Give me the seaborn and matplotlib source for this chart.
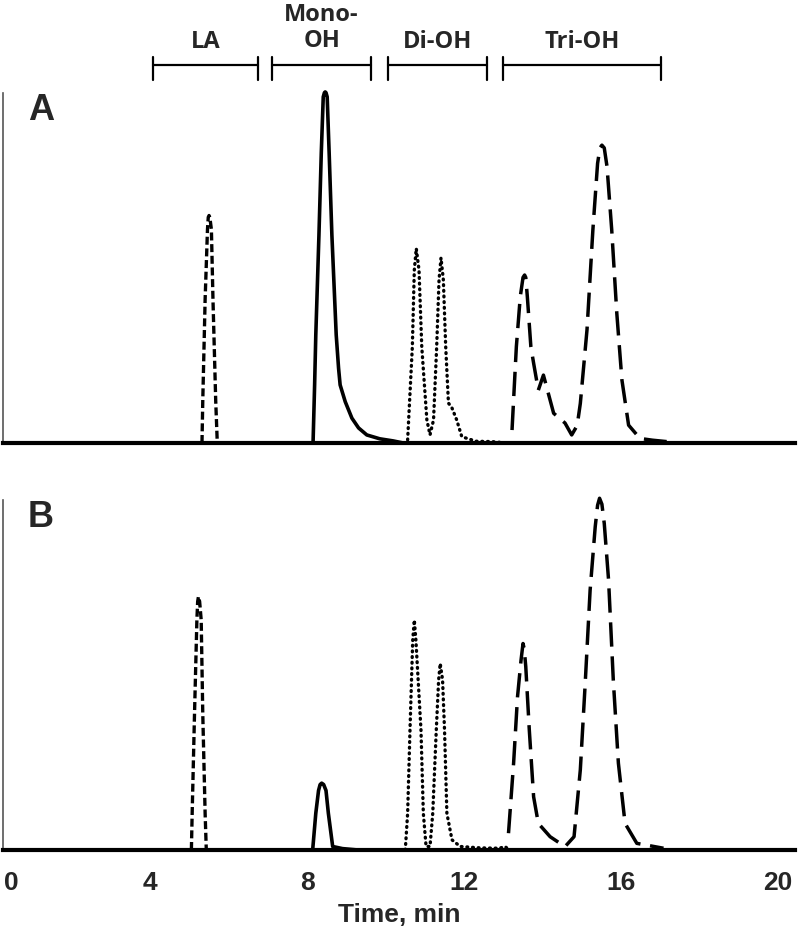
import matplotlib
matplotlib.use("Agg")
import matplotlib.pyplot as plt
import seaborn as sns

# retention time (min) and signal (% of panel height)
# panel A
la_a_t = [5.32, 5.34, 5.40, 5.46, 5.48, 5.50, 5.52, 5.56, 5.60, 5.67, 5.71]
la_a_y = [0, 12, 41, 61, 64.5, 65, 64.5, 61, 41, 12, 0]
mono_a_t = [8.15, 8.19, 8.22, 8.30, 8.36, 8.41, 8.44, 8.46, 8.48, 8.51, 8.56, 8.63, 8.74, 8.80, 8.84, 8.97,
            9.14, 9.31, 9.52, 9.85, 10.19, 10.45]
mono_a_y = [0, 16.6, 30.9, 59.4, 83, 98.9, 100.1, 100.3, 100.1, 98.9, 83, 59.4, 30.9, 21.4, 16.6, 11.8,
            7.1, 4.3, 2.3, 1.2, 0.6, 0]
di_a_t = [10.56, 10.68, 10.73, 10.78, 10.85, 10.92, 11.05, 11.13, 11.22, 11.30, 11.36, 11.41, 11.47, 11.53, 11.60,
          11.69, 11.81, 11.94, 12.3, 12.7, 13.09]
di_a_y = [0.9, 27.5, 49.4, 55.6, 49.4, 27.5, 6.6, 2.3, 6.6, 27.5, 46.6, 52.9, 46.6, 27.5, 11.4,
          10.0, 6.6, 1.8, 0.5, 0.4, 0]
tri_a_t = [13.22, 13.33, 13.43, 13.50, 13.54, 13.57, 13.61, 13.70, 13.77, 13.89, 14.02, 14.28, 14.57, 14.74, 14.88,
           14.96, 15.13, 15.28, 15.40, 15.46, 15.51, 15.57, 15.64, 15.76, 15.89, 16.02, 16.19, 16.48, 16.8, 17.16]
tri_a_y = [3.7, 27.5, 41.8, 47.3, 48, 47.3, 41.8, 27.5, 22.8, 15.1, 19.4, 8.5, 5.7, 2.3, 5.0,
           11.3, 32.3, 60.9, 79.9, 84.3, 85.1, 84.3, 79, 60.9, 37, 18, 5.1, 1.3, 0.8, 0.4]

# panel B
la_b_t = [5.05, 5.07, 5.13, 5.19, 5.21, 5.23, 5.26, 5.30, 5.34, 5.40, 5.43]
la_b_y = [0, 10.5, 39, 65.7, 71, 72.4, 71, 65.7, 39, 10.5, 0]
mono_b_t = [8.14, 8.22, 8.29, 8.33, 8.37, 8.42, 8.48, 8.54, 8.65, 8.9, 9.3]
mono_b_y = [0, 10.5, 17, 18.7, 19.1, 18.7, 17, 10.5, 1.0, 0.4, 0]
di_b_t = [10.50, 10.56, 10.62, 10.69, 10.73, 10.77, 10.90, 10.96, 11.03, 11.13, 11.20, 11.29, 11.35, 11.39, 11.45,
          11.50, 11.56, 11.69, 11.9, 12.41, 12.9, 13.04, 13.15]
di_b_y = [0, 10.5, 34.3, 60, 65.7, 60, 34.3, 10.5, 1, 1, 10.5, 34.3, 48.6, 53.3, 48.6,
          34.3, 10.5, 2.9, 1.0, 0.6, 0.5, 1.0, 0]
tri_b_t = [13.13, 13.26, 13.36, 13.45, 13.50, 13.53, 13.57, 13.66, 13.77, 13.89, 14.19, 14.57, 14.80, 14.96, 15.08,
           15.21, 15.34, 15.40, 15.45, 15.51, 15.57, 15.68, 15.80, 15.93, 16.10, 16.40, 17.08]
tri_b_y = [4.8, 24.8, 43.8, 54.3, 59, 57.5, 52.4, 34.3, 15.2, 7.6, 3.8, 0.95, 3.8, 22.9, 46.7,
           74.3, 92.4, 98.5, 100.5, 98.8, 93.3, 77.1, 48.6, 24.8, 7.6, 1.9, 0.5]

# fraction windows shown above panel A
groups = ["LA", "Mono-\nOH", "Di-OH", "Tri-OH"]
group_start = [4.08, 7.11, 10.06, 12.99]
group_end = [6.75, 9.63, 12.59, 17.02]

tick_pos = [0.45, 4, 8, 12, 16, 20]
tick_lab = ["0", "4", "8", "12", "16", "20"]

sns.set_style("white")
plt.rcParams["font.family"] = ["Liberation Sans", "DejaVu Sans"]
narrow = ["Liberation Sans Narrow", "Liberation Sans", "DejaVu Sans"]

styles = {
    "LA": dict(lw=2.4, linestyle=(0, (2.4, 1.1))),
    "Mono": dict(lw=2.6, linestyle="-"),
    "Di": dict(lw=2.4, linestyle=(0, (0.25, 1.45)), dash_capstyle="round"),
    "Tri": dict(lw=2.5, linestyle=(0, (7.0, 2.8))),
}

fig = plt.figure(figsize=(8, 9.39), dpi=100)
ax_a = fig.add_axes([3 / 800, 1 - 443 / 939, 792 / 800, 350 / 939])
ax_b = fig.add_axes([3 / 800, 1 - 850 / 939, 792 / 800, 350 / 939])

panels = [
    (ax_a, "A", [(la_a_t, la_a_y, "LA"), (mono_a_t, mono_a_y, "Mono"), (di_a_t, di_a_y, "Di"), (tri_a_t, tri_a_y, "Tri")]),
    (ax_b, "B", [(la_b_t, la_b_y, "LA"), (mono_b_t, mono_b_y, "Mono"), (di_b_t, di_b_y, "Di"), (tri_b_t, tri_b_y, "Tri")]),
]

for ax, letter, traces in panels:
    for t, y, key in traces:
        sns.lineplot(x=t, y=y, ax=ax, color="black", sort=False, estimator=None, clip_on=False, **styles[key])
    ax.set_xlim(0.25, 20.43)
    ax.set_ylim(0, 100)
    ax.set_yticks([])
    ax.set_xticks(tick_pos)
    ax.tick_params(axis="x", length=0, pad=15)
    for s in ["top", "right"]:
        ax.spines[s].set_visible(False)
    ax.spines["bottom"].set_linewidth(3.0)
    ax.spines["bottom"].set_color("black")
    ax.spines["left"].set_linewidth(1.2)
    ax.spines["left"].set_color("#555555")
    ax.set_xlabel("")
    ax.set_ylabel("")
    ax.text(0.048, 0.95, letter, transform=ax.transAxes, fontsize=26, fontweight="bold",
            ha="center", va="center")

ax_a.set_xticklabels([])
ax_b.set_xticklabels(tick_lab, fontweight="bold", fontsize=19, family=narrow)
ax_b.set_xlabel("Time, min", fontsize=19, fontweight="bold", family=narrow, labelpad=6)

# brackets with the product classes
tr = ax_a.get_xaxis_transform()
for name, x0, x1 in zip(groups, group_start, group_end):
    ax_a.plot([x0, x1], [1.08, 1.08], color="black", lw=1.6, transform=tr, clip_on=False)
    for xe in (x0, x1):
        ax_a.plot([xe, xe], [1.037, 1.103], color="black", lw=1.6, transform=tr, clip_on=False)
    ax_a.text((x0 + x1) / 2, 1.145 if "\n" not in name else 1.185, name, transform=tr,
              ha="center", va="center", fontsize=17, fontweight="bold",
              family=["Open Sans", "DejaVu Sans"], linespacing=1.1)

fig.savefig("out.png", dpi=100)
